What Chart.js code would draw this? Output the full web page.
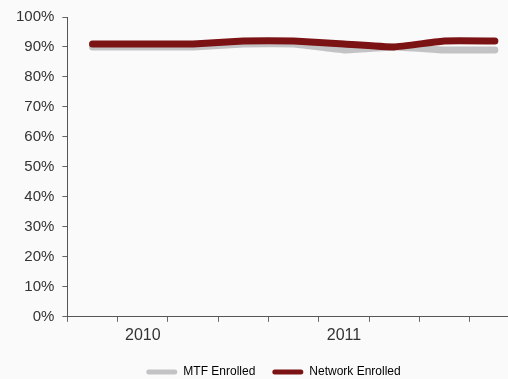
<!DOCTYPE html>
<html>
<head>
<meta charset="utf-8">
<script src="https://cdn.jsdelivr.net/npm/chart.js@4/dist/chart.umd.min.js"></script>
<style>
  html, body { margin: 0; padding: 0; width: 508px; height: 379px; overflow: hidden; background: #fafafa; }
  #wrap { position: absolute; left: 0; top: 0; width: 539px; height: 379px; }
</style>
</head>
<body>
<div id="wrap"><canvas id="c"></canvas></div>
<script>
const categories = ['Q4 2009', 'Q1 2010', 'Q2 2010', 'Q3 2010', 'Q4 2010', 'Q1 2011', 'Q2 2011', 'Q3 2011', 'Q4 2011'];
const tickLabels = ['', '2010', '', '', '', '2011', '', '', ''];
const mtfEnrolled = [90, 90, 90, 91, 91, 89, 90, 89, 89];
const networkEnrolled = [91, 91, 91, 92, 92, 91, 90, 92, 92];
const seriesNames = ['MTF Enrolled', 'Network Enrolled'];
const seriesColors = ['#c3c3c5', '#7b1214'];

const FONT = "'Liberation Sans', Arial, sans-serif";

new Chart(document.getElementById('c'), {
  type: 'line',
  data: {
    labels: categories,
    datasets: [
      { label: seriesNames[0], data: mtfEnrolled, borderColor: seriesColors[0], backgroundColor: seriesColors[0], order: 1 },
      { label: seriesNames[1], data: networkEnrolled, borderColor: seriesColors[1], backgroundColor: seriesColors[1], order: 0 }
    ]
  },
  options: {
    responsive: true,
    maintainAspectRatio: false,
    animation: false,
    devicePixelRatio: 1,
    layout: { padding: { left: 8, right: 0, top: 5, bottom: -9 } },
    elements: {
      line: { borderWidth: 7, tension: 0.1, borderCapStyle: 'round', borderJoinStyle: 'round', fill: false },
      point: { radius: 0, hoverRadius: 0 }
    },
    plugins: {
      tooltip: { enabled: false },
      legend: {
        position: 'bottom',
        labels: {
          font: { family: FONT, size: 12 },
          color: '#333333',
          boxWidth: 31,
          boxHeight: 5,
          useBorderRadius: true,
          borderRadius: 2.5,
          padding: 17,
          generateLabels: (chart) => chart.data.datasets.map((ds, i) => ({
            text: ds.label,
            fillStyle: ds.borderColor,
            strokeStyle: ds.borderColor,
            lineWidth: 0,
            hidden: false,
            datasetIndex: i,
            borderRadius: 2.5
          }))
        }
      }
    },
    scales: {
      x: {
        offset: true,
        grid: { offset: true, drawOnChartArea: false, drawTicks: true, tickLength: 5, color: '#666666', tickWidth: 1 },
        border: { display: true, color: '#555555', width: 1 },
        ticks: {
          autoSkip: false, maxRotation: 0, padding: 4,
          font: { family: FONT, size: 16 }, color: '#333333',
          callback: (v, i) => tickLabels[i]
        }
      },
      y: {
        min: 0, max: 100,
        grid: { drawOnChartArea: false, drawTicks: true, tickLength: 5, color: '#666666' },
        border: { display: true, color: '#555555', width: 1 },
        ticks: {
          stepSize: 10, padding: 8,
          font: { family: FONT, size: 15 }, color: '#333333',
          callback: (v) => v + '%'
        }
      },
      spacer: {
        type: 'linear', position: 'right', display: true, min: 0, max: 100,
        grid: { display: false }, border: { display: false }, ticks: { display: false },
        afterFit: (s) => { s.width = 19; }
      }
    }
  }
});
</script>
</body>
</html>
